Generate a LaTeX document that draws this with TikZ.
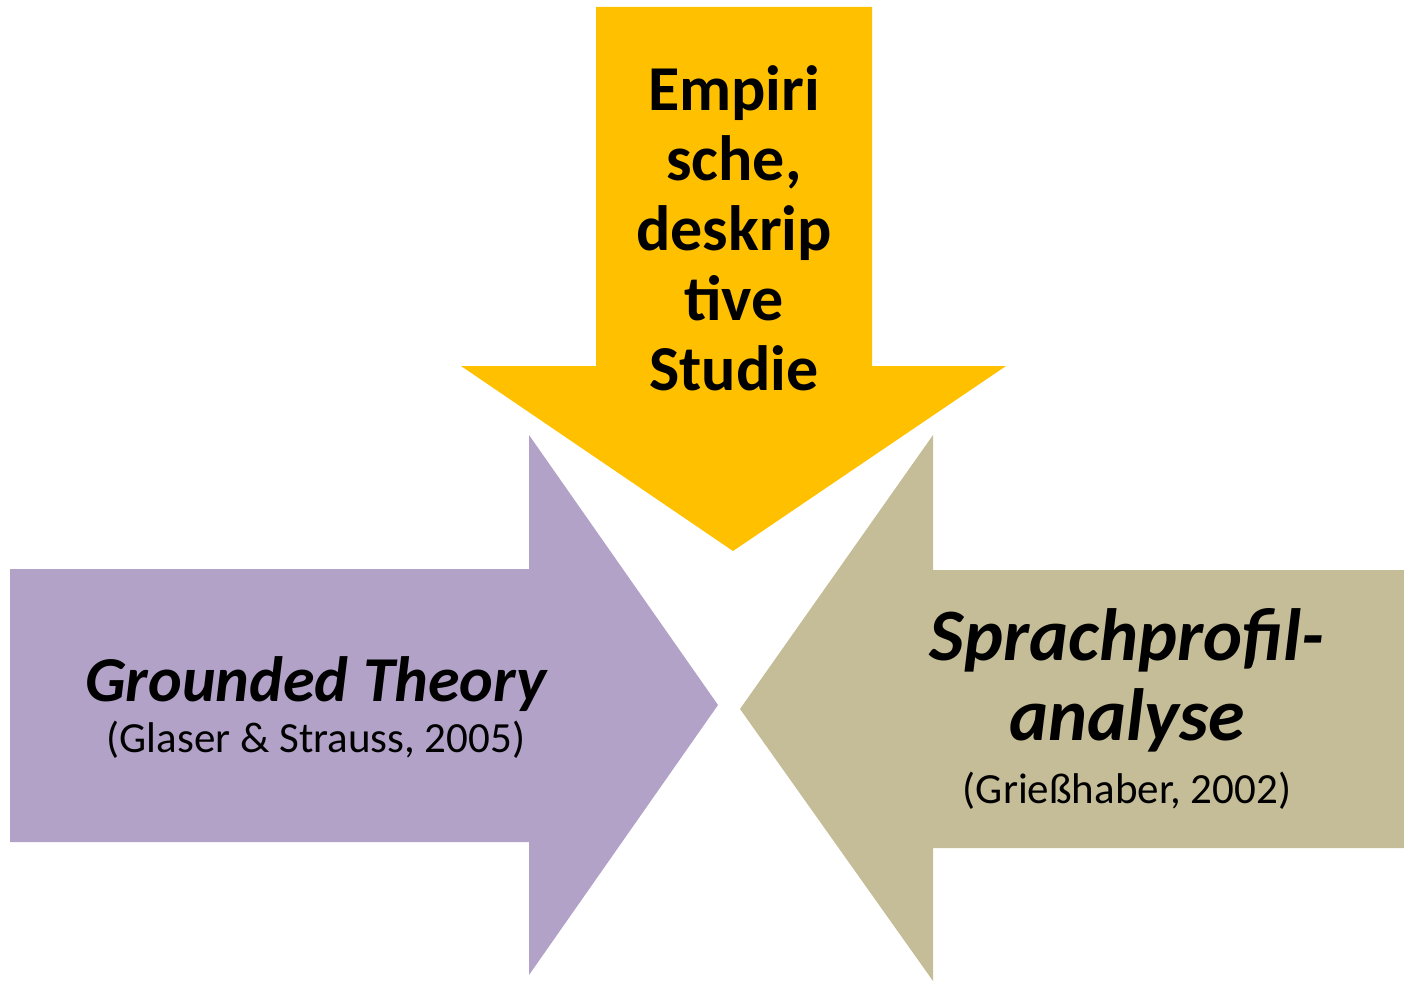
\documentclass[tikz,border=0pt]{standalone}
\usepackage{fontspec}
\setmainfont{Carlito}
\definecolor{arrowyellow}{HTML}{FFC000}
\definecolor{arrowpurple}{HTML}{B2A2C8}
\definecolor{arrowtan}{HTML}{C5BD97}
\begin{document}
\begin{tikzpicture}[x=1pt,y=-1pt,
  big/.style={inner sep=0pt, anchor=base, align=center, font=\fontsize{64}{70}\selectfont\bfseries},
  bigit/.style={big, font=\fontsize{64}{80}\selectfont\bfseries\itshape},
  bigger/.style={big, font=\fontsize{74}{80}\selectfont\bfseries\itshape},
  cite/.style={inner sep=0pt, anchor=base, font=\fontsize{43}{50}\selectfont}]
  \useasboundingbox (0,0) rectangle (1404,981);

  % downward arrow
  \fill[arrowyellow] (596,7) -- (872,7) -- (872,366) -- (1006,366) -- (733,551)
    -- (461,366) -- (596,366) -- cycle;
  % arrow pointing right
  \fill[arrowpurple] (10,569) -- (529,569) -- (529,435) -- (718,705) -- (529,975)
    -- (529,842) -- (10,842) -- cycle;
  % arrow pointing left
  \fill[arrowtan] (1404,570) -- (933,570) -- (933,435) -- (740,709) -- (933,981)
    -- (933,848) -- (1404,848) -- cycle;

  % multi-line nodes are placed by the baseline of their last line
  \node[big] (empirie) at (734,390) {Empiri\\sche,\\deskrip\\tive\\Studie};

  \node[bigit] (gt) at (316,701) {Grounded Theory};
  \node[cite] (gtref) at (316,752) {(Glaser \& Strauss, 2005)};

  \node[bigger] (spa) at (1127,740) {Sprachprofil-\\analyse};
  \node[cite] (sparef) at (1127,803) {(Grießhaber, 2002)};
\end{tikzpicture}
\end{document}
